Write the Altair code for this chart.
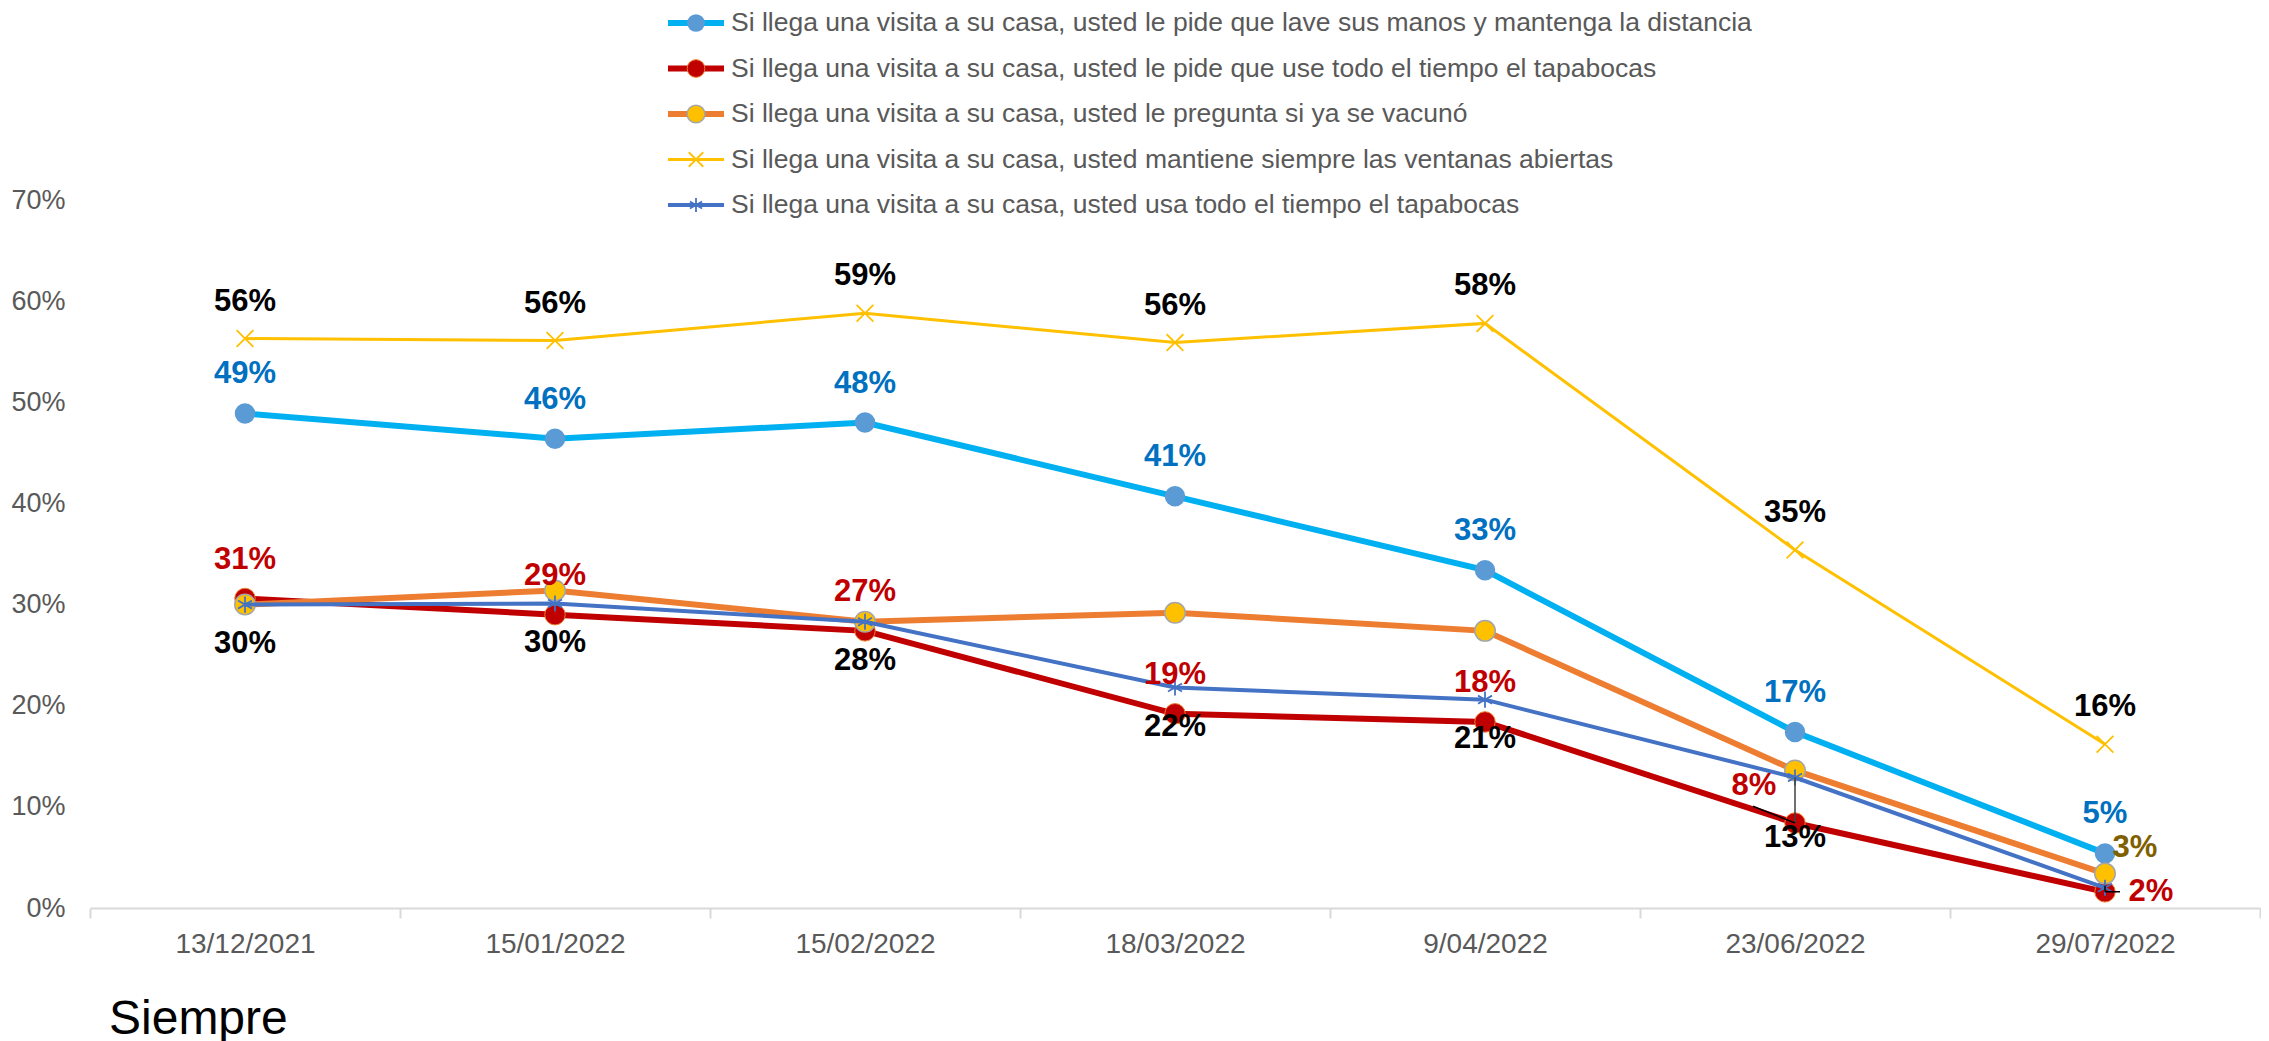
import altair as alt
import pandas as pd

# ---------------- data ----------------
dates = ["13/12/2021", "15/01/2022", "15/02/2022", "18/03/2022",
         "9/04/2022", "23/06/2022", "29/07/2022"]

keys = ["lave", "pide", "vacuno", "ventanas", "usa"]
names = [
    "Si llega una visita a su casa, usted le pide que lave sus manos y mantenga la distancia",
    "Si llega una visita a su casa, usted le pide que use todo el tiempo el tapabocas",
    "Si llega una visita a su casa, usted le pregunta si ya se vacunó",
    "Si llega una visita a su casa, usted mantiene siempre las ventanas abiertas",
    "Si llega una visita a su casa, usted usa todo el tiempo el tapabocas",
]

lave = [48.9, 46.4, 48.0, 40.7, 33.4, 17.4, 5.4]
pide = [30.6, 29.0, 27.4, 19.2, 18.4, 8.4, 1.6]
vacuno = [30.0, 31.4, 28.3, 29.2, 27.4, 13.6, 3.4]
ventanas = [56.3, 56.1, 58.8, 55.9, 57.8, 35.4, 16.2]
usa = [30.0, 30.1, 28.3, 21.8, 20.6, 12.9, 2.0]

y_ticks = [0, 10, 20, 30, 40, 50, 60, 70]
bottom_title = "Siempre"

values = {"lave": lave, "pide": pide, "vacuno": vacuno, "ventanas": ventanas, "usa": usa}

rows = []
for k in keys:
    for i, d in enumerate(dates):
        rows.append({"key": k, "date": d, "idx": i, "value": values[k][i]})
df = pd.DataFrame(rows)

leg_df = pd.DataFrame({"key": keys, "name": names})

# ---------------- styling ----------------
FONT = "Liberation Sans"
GRAY = "#595959"

x_scale = alt.Scale(type="band", domain=dates, paddingInner=0, paddingOuter=0)
x_axis = alt.Axis(title=None, domainColor="#D9D9D9", domainWidth=2,
                  tickColor="#D9D9D9", tickWidth=2, tickSize=10,
                  tickBand="extent", labelFontSize=28, labelFont=FONT,
                  labelColor=GRAY, labelPadding=12, labelAngle=0, grid=False)
x_enc = alt.X("date:N", sort=dates, scale=x_scale, bandPosition=0.5, axis=x_axis)

y_scale = alt.Scale(domain=[0, 70], nice=False, zero=True)
y_axis = alt.Axis(title=None, values=y_ticks, labelExpr="datum.value + '%'",
                  domain=False, ticks=False, grid=False,
                  labelFontSize=27, labelFont=FONT, labelColor=GRAY,
                  labelPadding=25)
y_enc = alt.Y("value:Q", scale=y_scale, axis=y_axis)

XSHAPE = "M-1,-1L1,1M-1,1L1,-1"
ASTER = "M0,-1L0,1M-0.87,-0.5L0.87,0.5M-0.87,0.5L0.87,-0.5"

style = {
    "lave": dict(line="#00B0F0", lw=6, shape="circle", fill="#5B9BD5", stroke="#5B9BD5", sw=0, size=420, filled=True),
    "pide": dict(line="#C00000", lw=6, shape="circle", fill="#C00000", stroke="#ED7D31", sw=1, size=420, filled=True),
    "vacuno": dict(line="#ED7D31", lw=6, shape="circle", fill="#FFC000", stroke="#A5A5A5", sw=1.5, size=420, filled=True),
    "ventanas": dict(line="#FFC000", lw=3, shape=XSHAPE, fill=None, stroke="#FFC000", sw=1.8, size=280, filled=False),
    "usa": dict(line="#4472C4", lw=4, shape=ASTER, fill=None, stroke="#4472C4", sw=1.8, size=260, filled=False),
}

base = alt.Chart(df)


def point_layer(src, s, scale_size=1.0, **enc):
    extra = {"fill": s["fill"]} if s["filled"] else {}
    return src.mark_point(shape=s["shape"], size=s["size"] * scale_size, filled=s["filled"],
                          opacity=1, stroke=s["stroke"], strokeWidth=s["sw"], **extra).encode(**enc)


main_layers = []
for k in keys:
    s = style[k]
    sub = base.transform_filter(alt.datum.key == k)
    main_layers.append(sub.mark_line(color=s["line"], strokeWidth=s["lw"]).encode(x=x_enc, y=y_enc))
    main_layers.append(point_layer(sub, s, x=x_enc, y=y_enc))

lbl = base.transform_calculate(label="format(datum.value, '.0f') + '%'")
TXT = dict(font=FONT, fontSize=31, fontWeight="bold", baseline="middle", align="center")


def labels(k, color, cond, dx=0, dy=0):
    return lbl.transform_filter(alt.datum.key == k).transform_filter(cond).mark_text(
        color=color, dx=dx, dy=dy, **TXT).encode(x=x_enc, y=y_enc, text="label:N")


# leader lines
lead13 = alt.Chart(pd.DataFrame({"date": [dates[5]], "value": [usa[5]], "b": [pide[5]]})).mark_rule(
    color="#404040", strokeWidth=1.5).encode(x=x_enc, y=y_enc, y2="b:Q")
lead8 = base.transform_filter((alt.datum.key == "pide") & (alt.datum.idx == 5)).mark_point(
    shape="M0,0L-1,-0.4", size=7056, filled=False, stroke="black", strokeWidth=1.5, opacity=1
).encode(x=x_enc, y=y_enc)
lead2 = base.transform_filter((alt.datum.key == "pide") & (alt.datum.idx == 6)).mark_point(
    shape="M0,0L1,0M0,0L0,-0.4", size=900, filled=False, stroke="black", strokeWidth=1.5, opacity=1
).encode(x=x_enc, y=y_enc)

text_layers = [
    labels("ventanas", "black", alt.datum.idx >= 0, dy=-37),
    labels("lave", "#0070C0", alt.datum.idx >= 0, dy=-39),
    labels("pide", "#C00000", alt.datum.idx < 5, dy=-39),
    labels("pide", "#C00000", alt.datum.idx == 5, dx=-41, dy=-37),
    labels("pide", "#C00000", alt.datum.idx == 6, dx=46, dy=0),
    labels("usa", "black", alt.datum.idx < 5, dy=39),
    labels("usa", "black", alt.datum.idx == 5, dy=60),
    labels("vacuno", "#7F6000", alt.datum.idx == 6, dx=30, dy=-26),
]

main = alt.layer(*main_layers, lead13, lead8, lead2, *text_layers)

# ---------------- legend ----------------
leg_y = alt.Y("key:N", sort=keys,
              scale=alt.Scale(type="point", domain=keys, range=[-177, 5], padding=0),
              axis=None)
leg_base = alt.Chart(leg_df)
leg_layers = []
for k in keys:
    s = style[k]
    sub = leg_base.transform_filter(alt.datum.key == k)
    leg_layers.append(sub.mark_rule(color=s["line"], strokeWidth=s["lw"]).encode(
        x=alt.value(578), x2=alt.value(634), y=leg_y))
    leg_layers.append(point_layer(sub, s, 0.75, x=alt.value(606), y=leg_y))
leg_layers.append(leg_base.mark_text(align="left", baseline="middle", font=FONT,
                                     fontSize=26.5, color=GRAY).encode(
    x=alt.value(641), y=leg_y, text="name:N"))

title_layer = alt.Chart(pd.DataFrame({"t": [bottom_title]})).mark_text(
    align="left", baseline="alphabetic", font=FONT, fontSize=48, color="black").encode(
    x=alt.value(19), y=alt.value(834), text="t:N")

legend = alt.layer(*leg_layers, title_layer)

chart = alt.layer(main, legend).resolve_scale(y="independent").properties(
    width=2170, height=708,
    padding={"left": 82, "top": 192, "right": 1, "bottom": 133},
    autosize=alt.AutoSizeParams(type="none"),
).configure(background="white").configure_view(stroke=None)

chart.save("out.html", embed_options={"renderer": "svg", "actions": False})
